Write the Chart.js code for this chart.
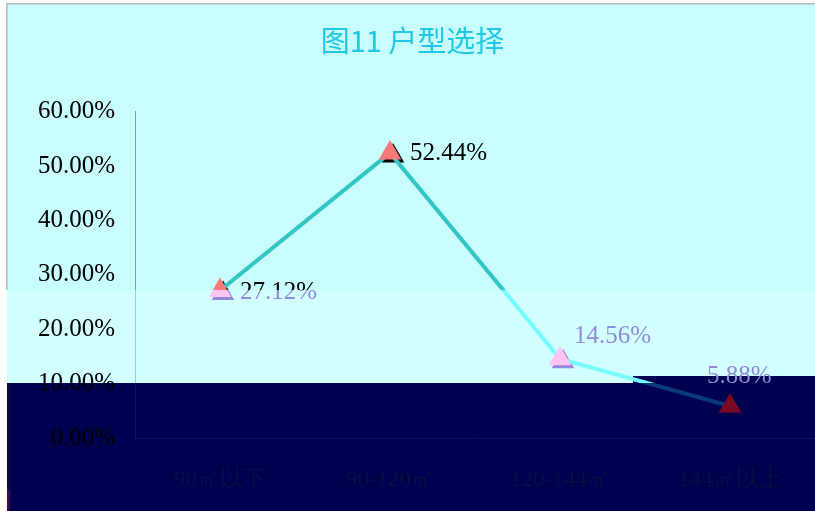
<!DOCTYPE html>
<html>
<head>
<meta charset="utf-8">
<script src="https://cdn.jsdelivr.net/npm/chart.js@4.4.1/dist/chart.umd.min.js"></script>
<style>
  html, body { margin: 0; padding: 0; background: #ffffff; }
  #chart { display: block; }
</style>
</head>
<body>
<canvas id="chart" width="815" height="511"></canvas>
<script>
// 数据
const categories = ['90㎡以下', '90-120㎡', '120-144㎡', '144㎡以上'];
const shares = [27.12, 52.44, 14.56, 5.88];
const yTicks = [0, 10, 20, 30, 40, 50, 60];
const titleText = '图11 户型选择';

// 标签相对数据点的偏移 (样式)
const labelOffsets = [[20, 2], [20, 1], [14, -22], [-23, -30]];

const W = 815, H = 511;
const canvas = document.getElementById('chart');
const ctx = canvas.getContext('2d');

// 三个色带的分界 (画面比例)
const bandA = 290 / H;
const bandB = 383 / H;

function bands(c1, c2, c3) {
    const g = ctx.createLinearGradient(0, 0, 0, H);
    g.addColorStop(0, c1);
    g.addColorStop(bandA, c1);
    g.addColorStop(bandA + 0.0001, c2);
    g.addColorStop(bandB, c2);
    g.addColorStop(bandB + 0.0001, c3);
    g.addColorStop(1, c3);
    return g;
}

const lineColor = bands('#33c4c4', '#74fcfc', '#0b3a7c');
const pointColor = bands('#f77a78', '#ffc4f2', '#7a0a24');
const shadowColor = bands('#000000', '#9388dc', '#050548');
const textColor = bands('#000000', '#9088dc', '#0a0a3c');
const axisColor = bands('#8a9a9a', '#a8c8d8', '#14145a');

// 背景色带
const backgroundPlugin = {
    id: 'bg',
    beforeDraw(chart) {
        const c = chart.ctx;
        c.save();
        c.fillStyle = '#ffffff';
        c.fillRect(0, 0, W, H);
        c.fillStyle = '#c8fefe';
        c.fillRect(7, 4, W - 7, 286);
        c.fillStyle = '#d2ffff';
        c.fillRect(7, 290, W - 7, 93);
        c.fillStyle = '#b0b8b8';
        c.fillRect(7, 3, W - 7, 1.5);
        c.fillRect(6, 3, 1.5, 287);
        c.fillStyle = '#000050';
        c.fillRect(7, 383, W - 7, H - 383);
        c.fillRect(633, 376, W - 633, 8);
        c.fillStyle = '#0a0a48';
        c.fillRect(7, 383, 4, H - 383);
        c.fillStyle = '#3a0a4a';
        c.fillRect(7, 490, 3, 21);
        c.restore();
    }
};

// 三角形阴影
const shadowPlugin = {
    id: 'shadow',
    beforeDatasetDraw(chart, args) {
        const meta = chart.getDatasetMeta(args.index);
        const c = chart.ctx;
        const r = 13;
        c.save();
        c.fillStyle = shadowColor;
        meta.data.forEach(p => {
            const x = p.x + 3, y = p.y + 3;
            c.beginPath();
            c.moveTo(x, y - r);
            c.lineTo(x + r * 0.866, y + r * 0.5);
            c.lineTo(x - r * 0.866, y + r * 0.5);
            c.closePath();
            c.fill();
        });
        c.restore();
    }
};

// 数据标签
const labelPlugin = {
    id: 'labels',
    afterDatasetsDraw(chart) {
        const meta = chart.getDatasetMeta(0);
        const c = chart.ctx;
        c.save();
        c.font = '25px "Liberation Serif", "DejaVu Serif", serif';
        c.fillStyle = textColor;
        c.textAlign = 'left';
        c.textBaseline = 'middle';
        meta.data.forEach((p, i) => {
            const off = labelOffsets[i];
            c.fillText(shares[i].toFixed(2) + '%', p.x + off[0], p.y + off[1]);
        });
        c.restore();
    }
};

new Chart(ctx, {
    type: 'line',
    data: {
        labels: categories,
        datasets: [{
            data: shares,
            borderColor: lineColor,
            borderWidth: 4,
            pointStyle: 'triangle',
            pointRadius: 13,
            pointHoverRadius: 13,
            pointBackgroundColor: pointColor,
            pointBorderWidth: 0,
            tension: 0,
            fill: false
        }]
    },
    options: {
        responsive: false,
        animation: false,
        events: [],
        layout: { autoPadding: false, padding: { left: 10, right: 0, top: 0, bottom: 0 } },
        plugins: {
            legend: { display: false },
            tooltip: { enabled: false },
            title: {
                display: true,
                text: titleText,
                color: '#22c6e6',
                font: { family: '"Noto Sans CJK SC", "Noto Sans", sans-serif', size: 29, weight: 'normal' },
                padding: { top: 24, bottom: 53 }
            }
        },
        scales: {
            x: {
                offset: true,
                grid: { display: false, drawTicks: false },
                border: { display: true, color: '#10105a', width: 1 },
                ticks: {
                    color: '#0c0c44',
                    padding: 28,
                    font: { family: '"Liberation Serif", "DejaVu Serif", serif', size: 23 }
                },
                afterFit(scale) { scale.height = 73; }
            },
            y: {
                min: 0,
                max: 60,
                afterBuildTicks(scale) { scale.ticks = yTicks.map(v => ({ value: v })); },
                grid: { display: false, drawTicks: false },
                border: { display: true, color: axisColor, width: 1 },
                ticks: {
                    color: textColor,
                    padding: 20,
                    font: { family: '"Liberation Serif", "DejaVu Serif", serif', size: 25 },
                    callback: v => v.toFixed(2) + '%'
                },
                afterFit(scale) { scale.width = 125; }
            }
        }
    },
    plugins: [backgroundPlugin, shadowPlugin, labelPlugin]
});
</script>
</body>
</html>
